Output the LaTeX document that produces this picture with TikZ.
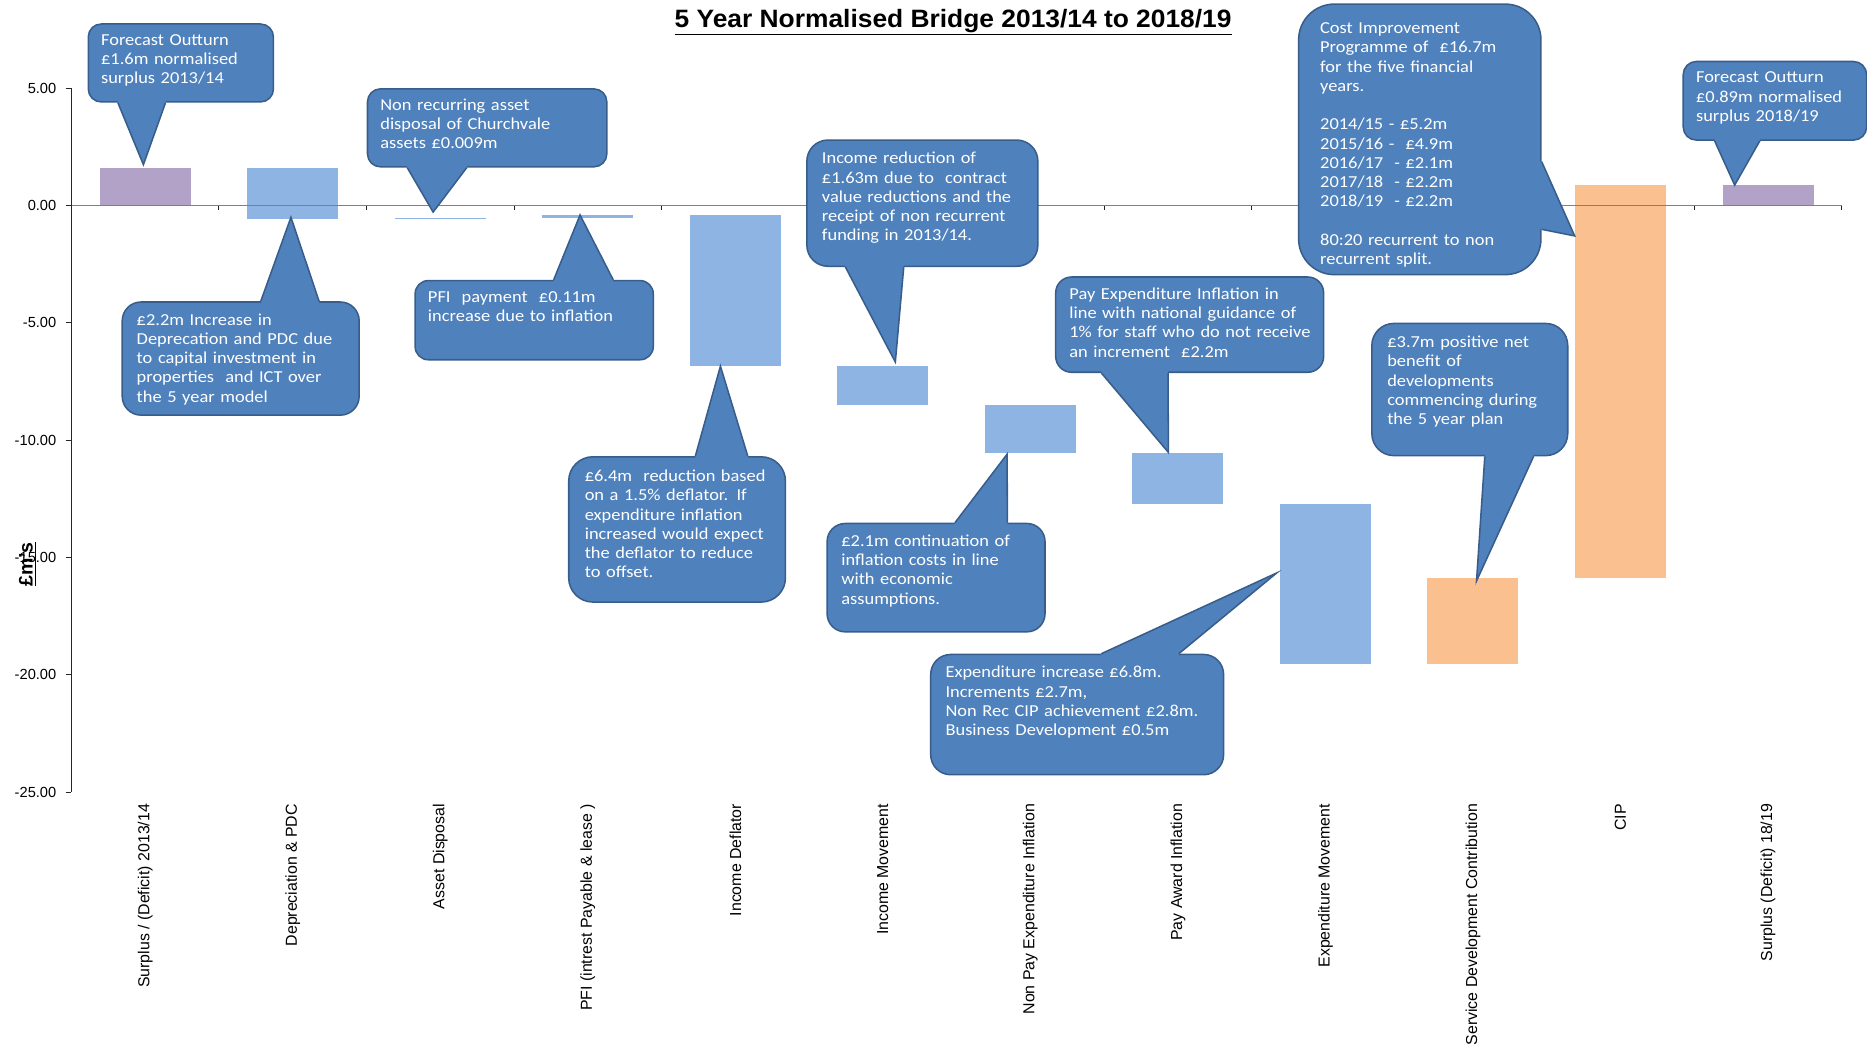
\documentclass[tikz,border=0pt]{standalone}
\usepackage{fontspec}
\setmainfont{Liberation Sans}
\newfontfamily\callfont[FakeStretch=1.1]{Carlito}
\newfontfamily\titlefont[FakeStretch=1.05]{Liberation Sans}
\usetikzlibrary{calc}
\definecolor{calloutfill}{HTML}{4F81BD}
\definecolor{calloutline}{HTML}{385D8A}
\definecolor{barsurplus}{HTML}{B3A2C7}
\definecolor{barmove}{HTML}{8EB4E3}
\definecolor{barplus}{HTML}{FAC090}
\definecolor{axisgrey}{HTML}{808080}
\tikzstyle{bar}=[rectangle,inner sep=0pt,minimum width=76.4*0.03cm]
\tikzstyle{callout}=[rectangle,fill=calloutfill,draw=calloutline,line width=1.1pt,inner sep=0pt,anchor=north west]
\tikzstyle{note}=[text=white,font=\callfont\fontsize{12}{13.8}\selectfont,text width=8cm,align=left,inner sep=0pt,anchor=base west]
\tikzstyle{callptr}=[fill=calloutfill]
\tikzstyle{callptrline}=[draw=calloutline,line width=1.1pt]
\tikzstyle{axisline}=[black!85,line width=0.7pt]
\tikzstyle{ticklabel}=[font=\fontsize{10.5}{12}\selectfont,anchor=east,inner sep=0pt]
\tikzstyle{category}=[font=\fontsize{11.4}{13}\selectfont,rotate=90,anchor=east,inner sep=0pt]
\begin{document}
\begin{tikzpicture}[x=0.03cm,y=0.03cm]
\useasboundingbox (0,0) rectangle (1568,-880);

% Title
\node[font=\titlefont\bfseries\fontsize{18}{22}\selectfont,anchor=base] (title) at (800.5,-23) {\underline{5 Year Normalised Bridge 2013/14 to 2018/19}};

%bars (values in m)
\foreach \i/\hi/\lo/\col in {1/1.62/0/barsurplus, 2/1.62/-0.55/barmove, 3/-0.53/-0.575/barmove, 4/-0.40/-0.53/barmove,
  5/-0.40/-6.82/barmove, 6/-6.82/-8.47/barmove, 7/-8.47/-10.52/barmove, 8/-10.52/-12.69/barmove,
  9/-12.69/-19.52/barmove, 10/-15.85/-19.52/barplus, 11/0.91/-15.85/barplus, 12/0.91/0/barsurplus}
  \node[bar,fill=\col,minimum height={(\hi-\lo)*19.7*0.03cm},anchor=north] (bar\i) at ({60+123.9*(\i-0.5)},{-172.7+19.7*\hi}) {};

%axes
\draw[axisgrey,line width=1pt] (56,-172.7) -- (1546.7,-172.7);
\draw[axisline] (60,-74.2) -- (60,-665.2);
\foreach \v/\lab in {5/5.00, 0/0.00, -5/-5.00, -10/-10.00, -15/-15.00, -20/-20.00, -25/-25.00} {
  \draw[axisline] (55.5,{-172.7+19.7*\v}) -- (60,{-172.7+19.7*\v});
  \node[ticklabel] (tick\v) at (47.5,{-172.7+19.7*\v}) {\lab};
}
\foreach \k in {1,...,12}
  \draw[axisline] ({60+123.9*\k},-172.7) -- ({60+123.9*\k},-176.5);

%categories
\foreach \k/\lab in {1/{Surplus / (Deficit) 2013/14}, 2/{Depreciation \& PDC}, 3/{Asset Disposal},
  4/{PFI (intrest Payable \& lease )}, 5/{Income Deflator}, 6/{Income Movement},
  7/{Non Pay Expenditure Inflation}, 8/{Pay Award Inflation}, 9/{Expenditure Movement},
  10/{Service Development Contribution}, 11/{CIP}, 12/{Surplus (Deficit) 18/19}}
  \node[category] (cat\k) at ({60+123.9*(\k-0.5)},-675) {\lab};

\node[font=\bfseries\fontsize{14}{16}\selectfont,rotate=90,inner sep=0pt] (yname) at (23,-474) {\underline{£m's}};

%C1 forecast 2013/14
\node[callout,minimum width=155.5*0.03cm,minimum height=65.5*0.03cm,rounded corners=10.9*0.03cm] (c1) at (73.5,-19.5) {};
\coordinate (c1a) at ($(c1.south west)+(25.5,0)$);
\coordinate (c1b) at ($(c1.south west)+(65.5,0)$);
\coordinate (t1) at ($(bar1.north)+(-1.5,2.5)$);
\node[note] (n1) at ($(c1.north west)+(11.2,-18.7)$) {Forecast Outturn\\£1.6m normalised\\surplus 2013/14};

%C2 depreciation
\node[callout,minimum width=199*0.03cm,minimum height=95*0.03cm,rounded corners=15.8*0.03cm] (c2) at (102,-253) {};
\coordinate (c2a) at ($(c2.north west)+(117,0)$);
\coordinate (c2b) at ($(c2.north west)+(166,0)$);
\coordinate (t2) at ($(bar2.south)+(-1.5,1.5)$);
\node[note] (n2) at ($(c2.north west)+(12.6,-20.1)$) {£2.2m Increase in\\Deprecation and PDC due\\to capital investment in\\properties\ \ and ICT over\\the 5 year model};

%C3 asset disposal
\node[callout,minimum width=201*0.03cm,minimum height=65.5*0.03cm,rounded corners=10.9*0.03cm] (c3) at (308,-74) {};
\coordinate (c3a) at ($(c3.south west)+(34,0)$);
\coordinate (c3b) at ($(c3.south west)+(84,0)$);
\coordinate (t3) at ($(bar3.north)+(-6,5)$);
\node[note] (n3) at ($(c3.north west)+(11.2,-18.7)$) {Non recurring asset\\disposal of Churchvale\\assets £0.009m};

%C4 PFI
\node[callout,minimum width=200*0.03cm,minimum height=66.5*0.03cm,rounded corners=11.1*0.03cm] (c4) at (348,-235) {};
\coordinate (c4a) at ($(c4.north west)+(117,0)$);
\coordinate (c4b) at ($(c4.north west)+(167,0)$);
\coordinate (t4) at ($(bar4.north)+(-6.5,0)$);
\node[note] (n4) at ($(c4.north west)+(11.2,-18.7)$) {PFI\ \ payment\ \ £0.11m\\increase due to inflation};

%C5 income deflator
\node[callout,minimum width=182*0.03cm,minimum height=122*0.03cm,rounded corners=20.3*0.03cm] (c5) at (477,-383) {};
\coordinate (c5a) at ($(c5.north west)+(107,0)$);
\coordinate (c5b) at ($(c5.north west)+(151,0)$);
\coordinate (t5) at ($(bar5.south)+(-12.5,0)$);
\node[note] (n5) at ($(c5.north west)+(13.9,-21.4)$) {£6.4m\ \ reduction based\\on a 1.5\% deflator. If\\expenditure inflation\\increased would expect\\the deflator to reduce\\to offset.};

%C6 income movement
\node[callout,minimum width=194*0.03cm,minimum height=106*0.03cm,rounded corners=17.7*0.03cm] (c6) at (677,-117) {};
\coordinate (c6a) at ($(c6.south west)+(33,0)$);
\coordinate (c6b) at ($(c6.south west)+(82,0)$);
\coordinate (t6) at ($(bar6.north)+(10.5,3)$);
\node[note] (n6) at ($(c6.north west)+(13.1,-20.6)$) {Income reduction of\\£1.63m due to\ \ contract\\value reductions and the\\receipt of non recurrent\\funding in 2013/14.};

%C7 non pay
\node[callout,minimum width=183*0.03cm,minimum height=91*0.03cm,rounded corners=15.2*0.03cm] (c7) at (694,-439) {};
\coordinate (c7a) at ($(c7.north west)+(108,0)$);
\coordinate (c7b) at ($(c7.north west)+(152,0)$);
\coordinate (t7) at ($(bar7.south)+(-19.5,-1)$);
\node[note] (n7) at ($(c7.north west)+(12.4,-19.9)$) {£2.1m continuation of\\inflation costs in line\\with economic\\assumptions.};

%C8 pay award
\node[callout,minimum width=225*0.03cm,minimum height=80*0.03cm,rounded corners=13.3*0.03cm] (c8) at (886,-232) {};
\coordinate (c8a) at ($(c8.south west)+(39,0)$);
\coordinate (c8b) at ($(c8.south west)+(95,0)$);
\coordinate (t8) at ($(bar8.north)+(-8,0)$);
\node[note] (n8) at ($(c8.north west)+(11.9,-19.4)$) {Pay Expenditure Inflation in\\line with national guidance of\\1\% for staff who do not receive\\an increment\ \ £2.2m};

%C9 expenditure
\node[callout,minimum width=246*0.03cm,minimum height=101*0.03cm,rounded corners=16.8*0.03cm] (c9) at (781,-549) {};
\coordinate (c9a) at ($(c9.north west)+(144,0)$);
\coordinate (c9b) at ($(c9.north west)+(209,0)$);
\coordinate (t9) at ($(bar9.west)+(-2.5,9)$);
\node[note] (n9) at ($(c9.north west)+(12.9,-20.4)$) {Expenditure increase £6.8m.\\Increments £2.7m,\\Non Rec CIP achievement £2.8m.\\Business Development £0.5m};

%C10 CIP
\node[callout,minimum width=203.5*0.03cm,minimum height=227.2*0.03cm,rounded corners=30*0.03cm] (c10) at (1090,-2.8) {};
\coordinate (c10a) at ($(c10.north east)+(0,-133)$);
\coordinate (c10b) at ($(c10.north east)+(0,-189.8)$);
\coordinate (t10) at ($(bar11.north west)+(0,-43.4)$);
\node[note] (n10) at ($(c10.north west)+(18.5,-25.5)$) {Cost Improvement\\Programme of\ \ £16.7m\\for the five financial\\years.\\[13.8pt]2014/15 - £5.2m\\2015/16 -\ \ £4.9m\\2016/17\ \ - £2.1m\\2017/18\ \ - £2.2m\\2018/19\ \ - £2.2m\\[13.8pt]80:20 recurrent to non\\recurrent split.};

%C11 forecast 2018/19
\node[callout,minimum width=154*0.03cm,minimum height=66*0.03cm,rounded corners=11*0.03cm] (c11) at (1413,-51) {};
\coordinate (c11a) at ($(c11.south west)+(27,0)$);
\coordinate (c11b) at ($(c11.south west)+(65,0)$);
\coordinate (t11) at ($(bar12.north)+(-28,-0.7)$);
\node[note] (n11) at ($(c11.north west)+(11.2,-18.7)$) {Forecast Outturn\\£0.89m normalised\\surplus 2018/19};

%C12 service development
\node[callout,minimum width=164.5*0.03cm,minimum height=111*0.03cm,rounded corners=18.5*0.03cm] (c12) at (1151.5,-271) {};
\coordinate (c12a) at ($(c12.south west)+(95.5,0)$);
\coordinate (c12b) at ($(c12.south west)+(136.5,0)$);
\coordinate (t12) at ($(bar10.north)+(3,-3)$);
\node[note] (n12) at ($(c12.north west)+(13.4,-20.9)$) {£3.7m positive net\\benefit of\\developments\\commencing during\\the 5 year plan};

%pointers
\foreach \i/\dx/\dy in {1/0/4, 2/0/-4, 3/0/4, 4/0/-4, 5/0/-4, 6/0/4, 7/0/-4, 8/0/4, 9/0/-4, 10/-4/0, 11/0/4, 12/0/4} {
  \fill[callptr] ($(c\i a)+(\dx,\dy)$) -- (c\i a) -- (t\i) -- (c\i b) -- ($(c\i b)+(\dx,\dy)$) -- cycle;
  \draw[callptrline] (c\i a) -- (t\i) -- (c\i b);
}

\end{tikzpicture}
\end{document}
